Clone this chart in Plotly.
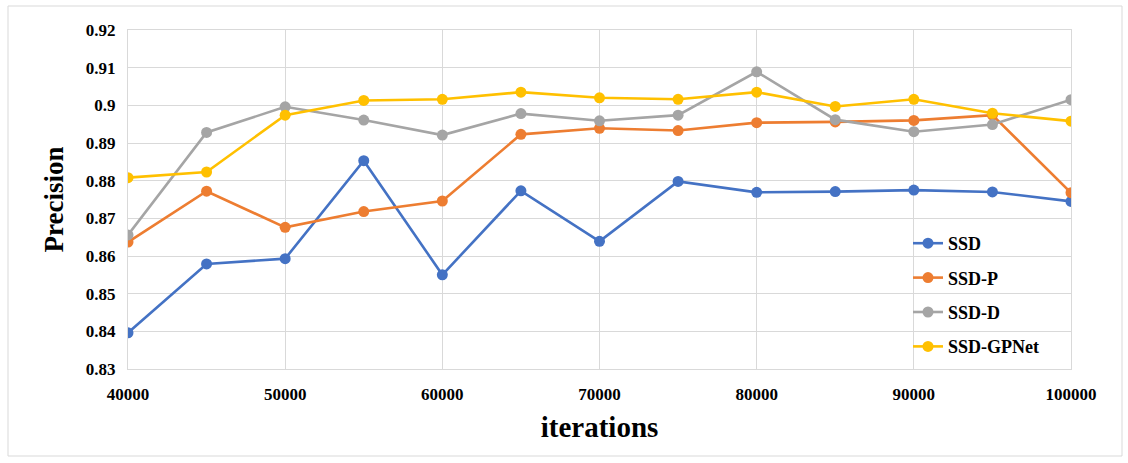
import plotly.graph_objects as go

iterations = [40000, 45000, 50000, 55000, 60000, 65000, 70000, 75000, 80000, 85000, 90000, 95000, 100000]
ssd = [0.8396, 0.8579, 0.8593, 0.8853, 0.8550, 0.8773, 0.8639, 0.8798, 0.8769, 0.8771, 0.8775, 0.8770, 0.8745]
ssd_p = [0.8637, 0.8772, 0.8676, 0.8718, 0.8746, 0.8923, 0.8939, 0.8933, 0.8954, 0.8956, 0.8960, 0.8974, 0.8768]
ssd_d = [0.8656, 0.8928, 0.8996, 0.8961, 0.8921, 0.8978, 0.8959, 0.8974, 0.9089, 0.8962, 0.8930, 0.8949, 0.9015]
ssd_gpnet = [0.8808, 0.8823, 0.8974, 0.9013, 0.9016, 0.9035, 0.9020, 0.9016, 0.9035, 0.8997, 0.9016, 0.8979, 0.8958]

series_names = ["SSD", "SSD-P", "SSD-D", "SSD-GPNet"]
series_values = [ssd, ssd_p, ssd_d, ssd_gpnet]
colors = ["#4472C4", "#ED7D31", "#A5A5A5", "#FFC000"]

y_ticks = [0.83, 0.84, 0.85, 0.86, 0.87, 0.88, 0.89, 0.90, 0.91, 0.92]
y_ticktext = ["0.83", "0.84", "0.85", "0.86", "0.87", "0.88", "0.89", "0.9", "0.91", "0.92"]
x_ticks = [40000, 50000, 60000, 70000, 80000, 90000, 100000]

FONT = "Liberation Serif"
W, H = 1128, 463
L, R, T, B = 128, 57, 30, 94

fig = go.Figure()
for name, vals, c in zip(series_names, series_values, colors):
    fig.add_trace(go.Scatter(
        x=iterations, y=vals, name=name, mode="lines+markers",
        line=dict(color=c, width=2.6),
        marker=dict(color=c, size=11),
        legendgroup=name,
    ))

pw = W - L - R
ph = H - T - B
fig.add_shape(type="rect", xref="paper", yref="paper",
              x0=(8 - L) / pw, x1=(1122 - L) / pw,
              y0=(H - B - 456) / ph, y1=(H - B - 6) / ph,
              line=dict(color="#d9d9d9", width=1), layer="below")

fig.update_layout(
    width=W, height=H,
    margin=dict(l=L, r=R, t=T, b=B),
    plot_bgcolor="white", paper_bgcolor="white",
    font=dict(family=FONT, color="black"),
    showlegend=True,
    legend=dict(
        x=(908 - L) / pw, y=(H - B - 225) / ph, xanchor="left", yanchor="top",
        font=dict(family=FONT, size=18, color="black", weight="bold"),
        bgcolor="rgba(0,0,0,0)", tracegroupgap=8,
    ),
    xaxis=dict(
        range=[40000, 100000], tickvals=x_ticks, ticktext=[str(v) for v in x_ticks],
        showgrid=True, gridcolor="#d9d9d9", gridwidth=1,
        showline=True, linecolor="#d9d9d9", linewidth=1, mirror=True,
        zeroline=False, ticks="", ticklen=0, ticklabelstandoff=10,
        tickfont=dict(family=FONT, size=17, color="black", weight="bold"),
        title=dict(text="iterations", font=dict(family=FONT, size=29, color="black", weight="bold"), standoff=13),
    ),
    yaxis=dict(
        range=[0.83, 0.92], tickvals=y_ticks, ticktext=y_ticktext,
        showgrid=True, gridcolor="#d9d9d9", gridwidth=1,
        showline=True, linecolor="#d9d9d9", linewidth=1, mirror=True,
        zeroline=False, ticks="", ticklabelstandoff=8,
        tickfont=dict(family=FONT, size=17, color="black", weight="bold"),
        title=dict(text="Precision", font=dict(family=FONT, size=27, color="black", weight="bold"), standoff=14),
    ),
)

fig.write_html("out.html", config={"displayModeBar": False},
               post_script="document.body.style.margin='0';document.body.style.overflow='hidden';")
